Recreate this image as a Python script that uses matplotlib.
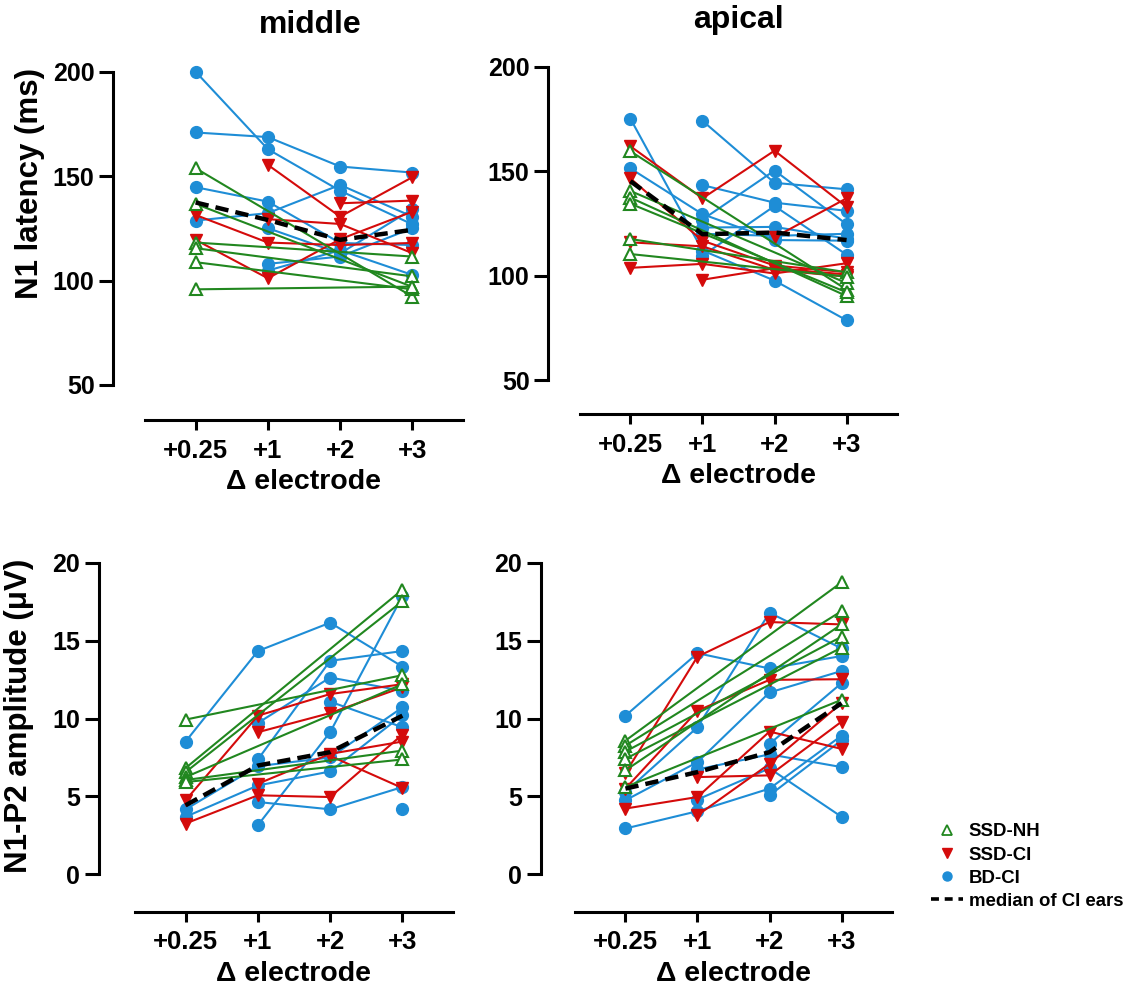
import numpy as np
import matplotlib
matplotlib.use("Agg")
import matplotlib.pyplot as plt
from matplotlib.lines import Line2D

plt.rcParams['font.family'] = ['Liberation Sans', 'DejaVu Sans']
plt.rcParams['font.weight'] = 'bold'

nan = np.nan
categories = ["+0.25", "+1", "+2", "+3"]
groups = ["SSD-NH", "SSD-CI", "BD-CI"]

# ---- middle, N1 latency (ms) ----
mid_lat_nh = [[153.8, nan, nan, 92.3], [136.7, nan, nan, 97.0], [118.2, nan, nan, 111.5],
              [115.5, nan, nan, 102.0], [108.8, nan, nan, 95.8], [95.8, nan, nan, 97.1]]
mid_lat_ci = [[131.4, 118.2, 117.0, 118.0], [119.5, 101.1, 119.8, 133.0],
              [nan, 155.4, 130.6, 149.5], [nan, 129.4, 127.1, 113.1], [nan, nan, 137.0, 138.3]]
mid_lat_bd = [[200.0, 162.9, 143.0, 126.9], [170.9, 168.7, 154.6, 151.7], [144.7, 137.8, 118.0, 117.0],
              [128.7, 132.3, 145.8, 130.6], [nan, 125.1, 113.0, 134.2], [nan, 108.0, 111.5, 125.1],
              [nan, 104.8, 114.5, 102.7]]
mid_lat_median = [137.4, 129.0, 119.5, 124.3]

# ---- apical, N1 latency (ms) ----
api_lat_nh = [[159.5, nan, nan, 93.3], [140.5, nan, nan, 96.4], [137.3, nan, nan, 90.2],
              [134.4, nan, nan, 92.0], [117.5, nan, nan, 101.6], [110.3, nan, nan, 99.5]]
api_lat_ci = [[161.9, 137.0, 159.8, 132.9], [146.5, 116.7, 104.8, 101.6], [115.9, 114.0, 102.7, 99.5],
              [103.7, 105.6, 101.0, 105.9], [nan, 98.0, 103.5, 100.5], [nan, nan, 118.3, 137.0]]
api_lat_bd = [[175.1, 112.0, 97.6, 78.6], [nan, 174.1, 144.4, 141.3], [151.3, 129.4, 117.0, 116.7],
              [nan, 143.3, 134.9, 131.0], [nan, 126.8, 150.3, 124.6], [nan, 123.0, 123.3, 117.7],
              [nan, 109.5, 133.3, 110.0], [nan, 120.0, 119.0, 120.0]]
api_lat_median = [145.2, 119.8, 120.6, 117.0]

# ---- middle, N1-P2 amplitude (uV) ----
mid_amp_nh = [[9.93, nan, nan, 12.78], [6.82, nan, nan, 18.27], [6.56, nan, nan, 17.53],
              [6.24, nan, nan, 12.2], [6.05, nan, nan, 7.94], [5.92, nan, nan, 7.37]]
mid_amp_ci = [[4.75, 10.18, 11.57, 12.2], [3.26, 5.07, 4.96, 8.97], [nan, 9.12, 10.35, 12.0],
              [nan, 5.81, 7.73, 8.52], [nan, nan, 7.6, 5.54]]
mid_amp_bd = [[8.52, 14.33, 16.15, 13.33], [4.17, 6.94, 7.5, 10.71], [3.69, 5.7, 6.6, 10.22],
              [nan, 9.71, 12.63, 11.78], [nan, 7.37, 13.7, 14.33], [nan, 3.15, 9.12, 17.85],
              [nan, 4.64, 4.17, 5.6], [nan, nan, 11.08, 9.44], [nan, nan, nan, 4.22]]
mid_amp_median = [4.43, 6.98, 7.84, 10.18]

# ---- apical, N1-P2 amplitude (uV) ----
api_amp_nh = [[8.58, nan, nan, 18.74], [8.26, nan, nan, 16.89], [7.88, nan, nan, 15.25],
              [7.41, nan, nan, 14.55], [6.67, nan, nan, 16.04], [5.6, nan, nan, 11.2]]
api_amp_ci = [[6.5, 13.97, 16.19, 16.04], [5.5, 10.5, 12.48, 12.52], [4.22, 4.96, 9.16, 8.05],
              [nan, 3.79, 7.09, 10.99], [nan, 6.24, 6.35, 9.8]]
api_amp_bd = [[10.18, 14.19, 13.21, 14.01], [5.28, 9.44, 16.79, 14.5], [4.75, 7.2, 11.67, 13.05],
              [2.94, 4.05, 5.5, 8.9], [nan, 6.73, 7.7, 6.88], [nan, 4.8, 6.8, 3.69],
              [nan, nan, 8.37, 12.27], [nan, nan, 5.07, 8.6]]
api_amp_median = [5.5, 6.56, 7.84, 10.99]

GREEN = '#21871F'
RED = '#D40B0B'
BLUE = '#1E8DD6'

W, H = 1138, 986
PT = 100 / 72.0  # pixels per point
fig = plt.figure(figsize=(W / 100, H / 100), dpi=100)


def px_axes(left, right, top, bottom):
    return fig.add_axes([left / W, 1 - bottom / H, (right - left) / W, (bottom - top) / H])


def draw_panel(ax, nh, ci, bd, med, ylim, yticks, yout_px, xout_px):
    x = np.arange(len(categories))
    for subj in bd:
        y = np.array(subj, float); m = ~np.isnan(y)
        ax.plot(x[m], y[m], color=BLUE, lw=1.5, marker='o', ms=8.5, mec=BLUE, mfc=BLUE, zorder=2,
                clip_on=False)
    for subj in ci:
        y = np.array(subj, float); m = ~np.isnan(y)
        ax.plot(x[m], y[m], color=RED, lw=1.5, marker='v', ms=8.5, mec=RED, mfc=RED, zorder=3,
                clip_on=False)
    for subj in nh:
        y = np.array(subj, float); m = ~np.isnan(y)
        ax.plot(x[m], y[m], color=GREEN, lw=1.5, marker='^', ms=8.5, mec=GREEN, mfc='white',
                mew=1.5, zorder=4, clip_on=False)
    ax.plot(x, med, color='black', lw=3.2, ls=(0, (3.0, 1.6)), zorder=5)
    ax.set_xlim(-0.70, 3.70)
    ax.set_ylim(*ylim)
    ax.set_yticks(yticks)
    ax.set_xticks(x)
    ax.set_xticklabels(categories)
    for s in ['top', 'right']:
        ax.spines[s].set_visible(False)
    ax.spines['left'].set_position(('outward', yout_px / PT))
    ax.spines['bottom'].set_position(('outward', xout_px / PT))
    for s in ['left', 'bottom']:
        ax.spines[s].set_linewidth(2.2)
    ax.tick_params(axis='y', length=10, width=2.2, labelsize=18, pad=3.5)
    ax.tick_params(axis='x', length=7.5, width=2.2, labelsize=18.5, pad=6)
    for lab in ax.get_xticklabels() + ax.get_yticklabels():
        lab.set_fontweight('bold')
    ax.set_xlabel('Δ electrode', fontsize=20.5, fontweight='bold', labelpad=4.5)
    ax.patch.set_visible(False)


ax1 = px_axes(145, 463, 71.7, 385)
draw_panel(ax1, mid_lat_nh, mid_lat_ci, mid_lat_bd, mid_lat_median, (50, 200), [50, 100, 150, 200], 31.7, 35)
ax2 = px_axes(580, 897, 66.7, 380)
draw_panel(ax2, api_lat_nh, api_lat_ci, api_lat_bd, api_lat_median, (50, 200), [50, 100, 150, 200], 31.7, 34)
ax3 = px_axes(135, 453, 562.7, 874.3)
draw_panel(ax3, mid_amp_nh, mid_amp_ci, mid_amp_bd, mid_amp_median, (0, 20), [0, 5, 10, 15, 20], 36, 37.4)
ax4 = px_axes(575, 892, 562.7, 874.3)
draw_panel(ax4, api_amp_nh, api_amp_ci, api_amp_bd, api_amp_median, (0, 20), [0, 5, 10, 15, 20], 34, 37.4)

fig.text(310 / W, 1 - 25 / H, 'middle', ha='center', va='center', fontsize=23, fontweight='bold')
fig.text(738 / W, 1 - 20 / H, 'apical', ha='center', va='center', fontsize=23, fontweight='bold')
fig.text(30 / W, 1 - 184 / H, 'N1 latency (ms)', rotation=90, ha='center', va='center',
         fontsize=22.5, fontweight='bold')
fig.text(19 / W, 1 - 716 / H, 'N1-P2 amplitude (μV)', rotation=90, ha='center', va='center',
         fontsize=22.5, fontweight='bold')

handles = [
    Line2D([], [], ls='none', marker='^', color=GREEN, mfc='white', ms=6.5, mew=1.3),
    Line2D([], [], ls='none', marker='v', color=RED, mfc=RED, ms=6.5),
    Line2D([], [], ls='none', marker='o', color=BLUE, mfc=BLUE, ms=6.5),
    Line2D([], [], color='black', lw=2.6, ls=(0, (2.2, 1.6))),
]
labels = groups + ['median of CI ears']
fig.legend(handles, labels, loc='upper left', bbox_to_anchor=(922 / W, 1 - 814 / H),
           frameon=False, prop={'size': 13.4, 'weight': 'bold'}, handlelength=1.7,
           handletextpad=0.3, labelspacing=0.33, borderpad=0.0)

fig.savefig('out.png', dpi=100)
